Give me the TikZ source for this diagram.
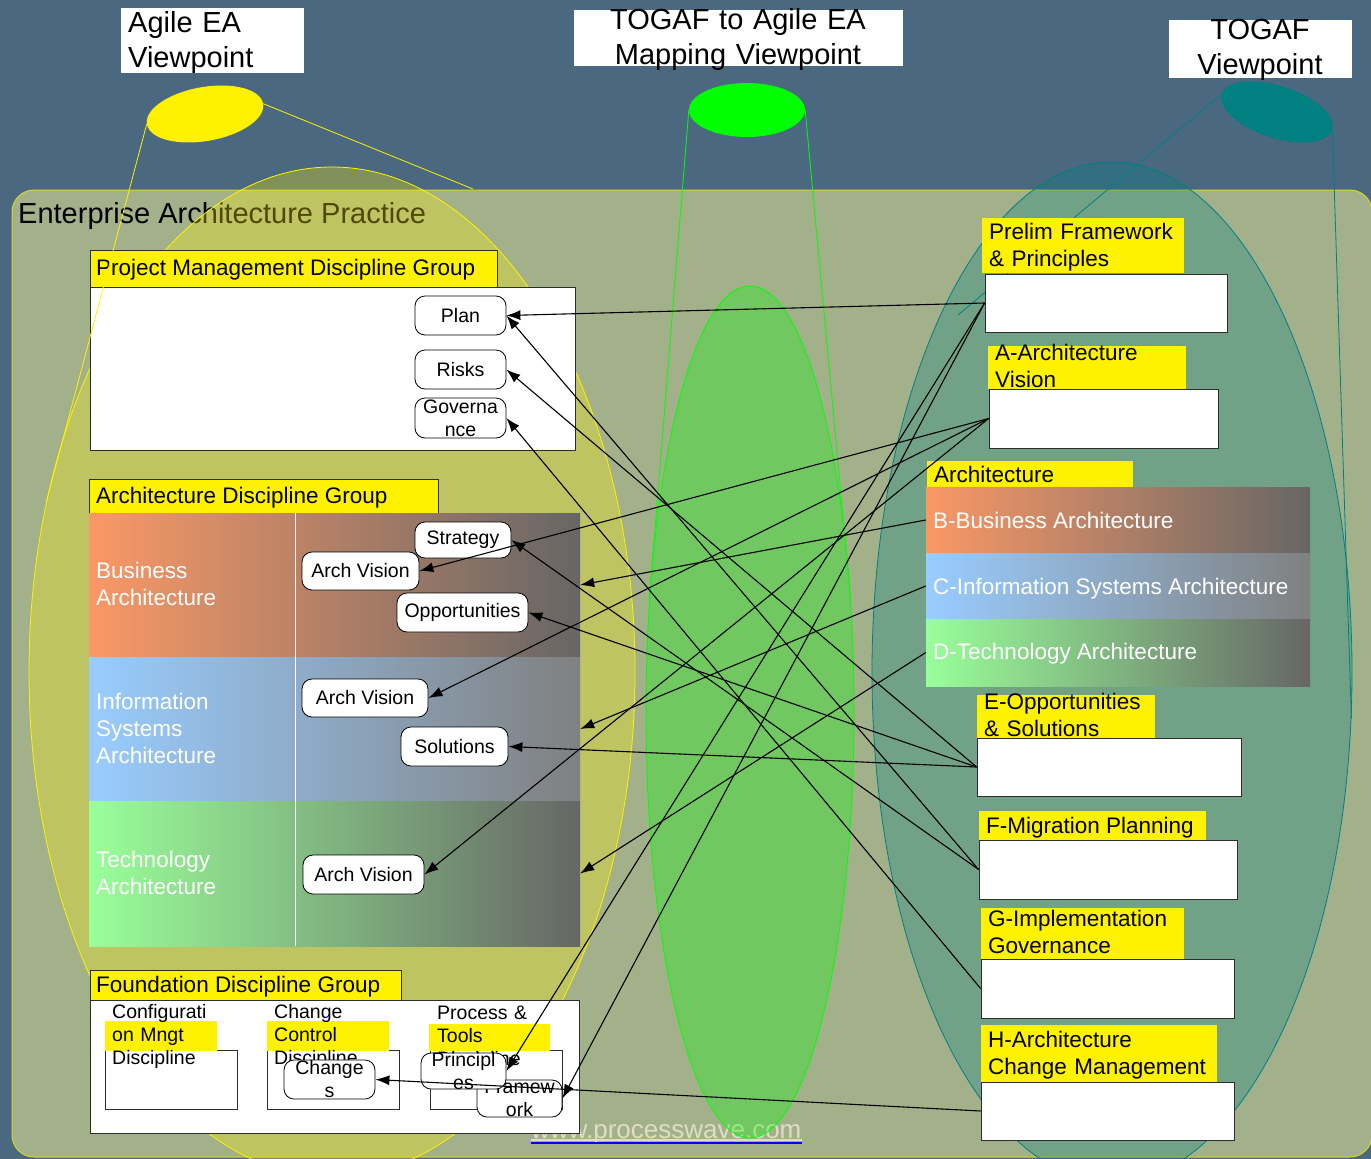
\documentclass[tikz,border=0pt]{standalone}
\usepackage{fontspec}
\setmainfont{Liberation Sans}
\usetikzlibrary{arrows.meta,shapes.geometric}
\definecolor{bgblue}{RGB}{74,105,128}
\definecolor{practice}{RGB}{163,177,139}
\definecolor{bizL}{RGB}{250,152,102}
\definecolor{isL}{RGB}{153,204,255}
\definecolor{techL}{RGB}{153,255,153}
\definecolor{greyD}{RGB}{102,102,102}
\definecolor{greyM}{RGB}{128,128,128}
\definecolor{webtxt}{RGB}{224,220,200}
\definecolor{edge}{RGB}{45,45,45}
\definecolor{limeG}{RGB}{0,255,0}
\definecolor{tealC}{RGB}{0,128,128}
\begin{document}
\begin{tikzpicture}[x=1pt,y=-1pt,
  txt/.style={inner sep=0pt,anchor=base west,align=left,text width=#1},
  txt/.default=400pt,
  ctxt/.style={inner sep=0pt,anchor=base,align=center,text width=#1},
  txt1/.style={inner sep=0pt,anchor=base west},
  ntxt/.style={inner sep=0pt,align=center,font=\fontsize{19.5}{23}\selectfont},
  hfont/.style={font=\fontsize{22.5}{27}\selectfont},
  nfont/.style={font=\fontsize{19.5}{23}\selectfont},
  tfont/.style={font=\fontsize{29}{35}\selectfont},
  sz/.style 2 args={minimum width=#1pt,minimum height=#2pt},
  wbox/.style={draw=edge,fill=white,line width=0.8pt,inner sep=0pt},
  hdr/.style={draw=edge,fill=yellow,line width=0.8pt,inner sep=0pt},
  ylab/.style={fill=yellow,inner sep=0pt},
  rbx/.style={draw=black,fill=white,rounded corners=10pt,line width=0.8pt,inner sep=0pt,nfont},
  rowS/.style={inner sep=0pt},
  conn/.style={-{Latex[length=14pt,width=10pt]},line width=1.1pt,black},
  callout/.style={line width=0.8pt}
]
\useasboundingbox (0,0) rectangle (1371,1159);
\fill[bgblue] (0,0) rectangle (1371,1159);

% practice area
\node[draw=yellow!85!black,line width=1pt,fill=practice,rounded corners=22pt,inner sep=0pt,sz={1360}{967}] (practice) at (692,673.5) {};
\node[txt1,font=\fontsize{29}{34}\selectfont] (title) at (18,223) {Enterprise Architecture Practice};

% website
\node[txt1,font=\fontsize{26}{30}\selectfont,text=webtxt] (web) at (531,1138) {www.processwave.com};
\draw[webtxt,line width=1.2pt] ([yshift=-2pt]web.base west) -- ([yshift=-2pt]web.base east);
\draw[blue,line width=2.4pt] ([yshift=-5pt]web.base west) -- ([yshift=-5pt]web.base east);

% big viewpoint ellipses
\node[ellipse,inner sep=0pt,sz={606}{1010},fill=yellow,fill opacity=.3,draw=yellow,line width=.8pt] (bigY) at (332,672) {};
\node[ellipse,inner sep=0pt,sz={208}{852},fill=limeG,fill opacity=.3,draw=limeG,line width=.8pt] (bigG) at (750,712) {};
\node[ellipse,inner sep=0pt,sz={480}{1020},fill=tealC,fill opacity=.3,draw=tealC,line width=.8pt] (bigT) at (1112,672) {};

% small ellipses
\node[ellipse,inner sep=0pt,sz={118}{54},fill=yellow,rotate=10] (smY) at (205,114) {};
\node[ellipse,inner sep=0pt,sz={116}{54},fill=limeG] (smG) at (747,110) {};
\node[ellipse,inner sep=0pt,sz={116}{52},fill=tealC,rotate=-18] (smT) at (1277,112) {};

% callout lines of green and teal viewpoints (behind the boxes)
\coordinate (tEnd) at (958,315);
\draw[callout,limeG] (smG.west) -- (bigG.132);
\draw[callout,limeG] (smG.east) -- (bigG.48);
\draw[callout,tealC] (smT.west) -- (tEnd);
\draw[callout,tealC] (smT.east) -- (bigT.-11);

% top labels
\node[fill=white,inner sep=0pt,sz={183}{65}] (agileBox) at (212.5,40.5) {};
\node[txt=180pt,tfont] (agileTxt) at (128,32) {Agile EA\\Viewpoint};
\node[fill=white,inner sep=0pt,sz={329}{56}] (mapBox) at (738.5,38) {};
\node[ctxt=329pt,tfont] (mapTxt) at (738,29) {TOGAF to Agile EA\\Mapping Viewpoint};
\node[fill=white,inner sep=0pt,sz={183}{58}] (togafBox) at (1260.5,49) {};
\node[ctxt=183pt,tfont] (togafTxt) at (1260,39) {TOGAF\\Viewpoint};

% Project management group
\node[wbox,sz={485}{163}] (pmBox) at (332.5,368.5) {};
\node[hdr,sz={407}{37}] (pmHdr) at (293.5,268.5) {};
\node[txt1,hfont] (pmTxt) at (96,275) {Project Management Discipline Group};
\node[rbx,sz={91}{39}] (plan) at (460.5,315.5) {Plan};
\node[rbx,sz={91}{39}] (risks) at (460.5,369.5) {Risks};
\node[rbx,sz={91}{40}] (gov) at (460.5,418) {};
\node[ntxt] (govT) at (gov) {Governa\\nce};

% Architecture discipline group
\node[hdr,sz={349}{34}] (adHdr) at (263.5,496) {};
\node[txt1,hfont] (adTxt) at (96,503) {Architecture Discipline Group};
\node[rowS,left color=bizL,right color=greyD,sz={491}{144}] (bizRow) at (334.5,585) {};
\node[rowS,left color=isL,right color=greyM,sz={491}{144}] (isRow) at (334.5,729) {};
\node[rowS,left color=techL,right color=greyD,sz={491}{145}] (techRow) at (334.5,873.5) {};
\draw[white,line width=.8pt] (295,513) -- (295,946);
\node[txt,hfont,text=white] (bizTxt) at (96,578) {Business\\Architecture};
\node[txt,hfont,text=white] (isTxt) at (96,709) {Information\\Systems\\Architecture};
\node[txt,hfont,text=white] (techTxt) at (96,867) {Technology\\Architecture};
\node[rbx,sz={96}{36}] (strat) at (463,540) {Strategy};
\node[rbx,sz={117}{38}] (avb) at (360.5,571) {Arch Vision};
\node[rbx,sz={131}{39}] (opp) at (462.5,612.5) {Opportunities};
\node[rbx,sz={126}{38}] (avis) at (365,698) {Arch Vision};
\node[rbx,sz={107}{39}] (sol) at (454.5,746.5) {Solutions};
\node[rbx,sz={121}{39}] (avt) at (363.5,874.5) {Arch Vision};

% Foundation group
\node[hdr,sz={311}{30}] (fdHdr) at (245.5,985) {};
\node[wbox,sz={489}{133}] (fdBox) at (334.5,1066.5) {};
\node[txt1,hfont] (fdTxt) at (96,992) {Foundation Discipline Group};
\node[wbox,sz={132}{59}] (cmBox) at (171,1079.5) {};
\node[wbox,sz={132}{59}] (ccBox) at (333,1079.5) {};
\node[wbox,sz={132}{59}] (ptBox) at (496,1079.5) {};
\node[ylab,sz={112}{30}] (cmY) at (161,1036) {};
\node[ylab,sz={122}{30}] (ccY) at (328,1036) {};
\node[ylab,sz={121}{27}] (ptY) at (489.5,1037.5) {};
\node[txt,nfont] (cmTxt) at (112,1018) {Configurati\\on Mngt\\Discipline};
\node[txt,nfont] (ccTxt) at (274,1018) {Change\\Control\\Discipline};
\node[txt,nfont] (ptTxt) at (437,1019) {Process \&\\Tools\\Discipline};
\node[rbx,sz={91}{39}] (chg) at (329.5,1079.5) {};
\node[ntxt] (chgT) at (chg) {Change\\s};
\node[rbx,sz={85}{37}] (frm) at (519.5,1098.5) {};
\node[ntxt] (frmT) at (frm) {Framew\\ork};
\node[rbx,sz={85}{36}] (prin) at (463.5,1071) {};
\node[ntxt] (prinT) at (prin) {Principl\\es};

% TOGAF side
\node[ylab,sz={202}{55}] (prelimY) at (1083,245.5) {};
\node[txt,hfont] (prelimTxt) at (989,239) {Prelim Framework\\\& Principles};
\node[wbox,sz={242}{58}] (prelim) at (1106,303) {};
\node[ylab,sz={198}{43}] (aY) at (1087,367.5) {};
\node[txt,hfont] (aTxt) at (995,360) {A-Architecture\\Vision};
\node[wbox,sz={229}{59}] (aBox) at (1103.5,418.5) {};
\node[ylab,sz={206}{26}] (archY) at (1030,474) {};
\node[txt1,hfont] (archTxt) at (934,482) {Architecture};
\node[rowS,left color=bizL,right color=greyD,sz={384}{66}] (bRow) at (1118,520) {};
\node[rowS,left color=isL,right color=greyM,sz={384}{66}] (cRow) at (1118,586) {};
\node[rowS,left color=techL,right color=greyD,sz={384}{67}] (dRow) at (1118,652.5) {};
\node[txt1,hfont,text=white] (bTxt) at (933,528) {B-Business Architecture};
\node[txt1,hfont,text=white] (cTxt) at (933,594) {C-Information Systems Architecture};
\node[txt1,hfont,text=white] (dTxt) at (933,659) {D-Technology Architecture};
\node[ylab,sz={178}{43}] (eY) at (1066,716.5) {};
\node[txt,hfont] (eTxt) at (984,709) {E-Opportunities\\\& Solutions};
\node[wbox,sz={264}{58}] (eBox) at (1109,767) {};
\node[ylab,sz={227}{29}] (fY) at (1092.5,825.5) {};
\node[txt1,hfont] (fTxt) at (986,833) {F-Migration Planning};
\node[wbox,sz={258}{59}] (fBox) at (1108,869.5) {};
\node[ylab,sz={203}{51}] (gY) at (1082.5,933.5) {};
\node[txt,hfont] (gTxt) at (988,926) {G-Implementation\\Governance};
\node[wbox,sz={253}{59}] (gBox) at (1107.5,988.5) {};
\node[ylab,sz={236}{57}] (hY) at (1099,1053.5) {};
\node[txt,hfont] (hTxt) at (988,1047) {H-Architecture\\Change Management};
\node[wbox,sz={253}{58}] (hBox) at (1107.5,1111) {};

% yellow callout lines (over the left boxes)
\coordinate (yEnd) at (473,189);
\draw[callout,yellow] (smY.west) -- (bigY.149);
\draw[callout,yellow] (smY.east) -- (yEnd);

% mapping connectors
\draw[conn] (prelim.west) -- (plan.east);
\draw[conn] (prelim.west) -- (prin.east);
\draw[conn] (prelim.west) -- (frm.east);
\draw[conn] (aBox.west) -- (avb.east);
\draw[conn] (aBox.west) -- (avis.east);
\draw[conn] (aBox.west) -- (avt.east);
\draw[conn] (bRow.west) -- (bizRow.east);
\draw[conn] (cRow.west) -- (isRow.east);
\draw[conn] (dRow.west) -- (techRow.east);
\draw[conn] (eBox.west) -- (risks.east);
\draw[conn] (eBox.west) -- (opp.east);
\draw[conn] (eBox.west) -- (sol.east);
\draw[conn] (fBox.west) -- (plan.east);
\draw[conn] (fBox.west) -- (strat.east);
\draw[conn] (gBox.west) -- (gov.east);
\draw[conn] (hBox.west) -- (chg.east);
\end{tikzpicture}
\end{document}
